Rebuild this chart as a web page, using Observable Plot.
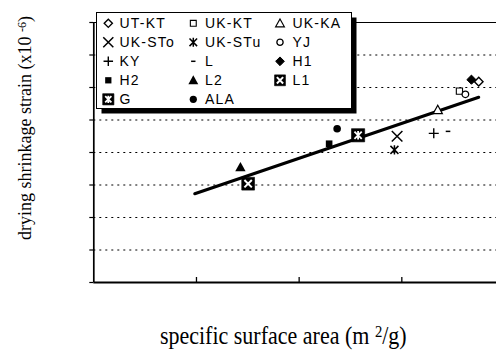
<!DOCTYPE html>
<html><head><meta charset="utf-8">
<script src="https://cdn.jsdelivr.net/npm/d3@7"></script>
<script src="https://cdn.jsdelivr.net/npm/@observablehq/plot@0.6"></script>
<style>
body{margin:0;background:#fff;}
#wrap{position:relative;width:496px;height:352px;overflow:hidden;background:#fff;}
#wrap svg.chart{position:absolute;left:0;top:0;}
.t{position:absolute;font-family:"Liberation Serif","Times New Roman",serif;font-size:18px;white-space:nowrap;color:#000;line-height:1;}
.t sup{font-size:0.67em;vertical-align:0.4em;line-height:0;}
#legend{position:absolute;left:0;top:0;}
</style>
</head><body>
<div id="wrap"></div>
<script>
// ---- data ----
const series = ["UT-KT","UK-KT","UK-KA","UK-STo","UK-STu","YJ","KY","L","H1","H2","L2","L1","G","ALA"];
const surfaceArea = [3.749, 3.561, 3.35, 2.954, 2.928, 3.619, 3.311, 3.45, 3.678, 2.292, 1.428, 1.503, 2.574, 2.37];
const shrinkage   = [618, 589, 531, 450, 408, 579, 459, 465, 624, 427, 355, 304, 453, 473];
const fitX = [0.983, 3.749];
const fitY = [273, 570];
const xTicks = [1, 2, 3];
const yTicks = [0, 100, 200, 300, 400, 500, 600, 700, 800];
const yGrid  = [100, 200, 300, 400, 500, 600, 700];

// ---- symbols (R = half extent) ----
const sym = f => ({draw(ctx, size){ f(ctx, Math.sqrt(size/Math.PI)); }});
const S = {
  diamond: sym((c,R)=>{c.moveTo(0,-R);c.lineTo(R,0);c.lineTo(0,R);c.lineTo(-R,0);c.closePath();}),
  square: sym((c,R)=>{c.rect(-R,-R,2*R,2*R);}),
  triangle: sym((c,R)=>{c.moveTo(0,-R);c.lineTo(R,0.8*R);c.lineTo(-R,0.8*R);c.closePath();}),
  circle: sym((c,R)=>{c.moveTo(R,0);c.arc(0,0,R,0,2*Math.PI);}),
  times: sym((c,R)=>{c.moveTo(-R,-R);c.lineTo(R,R);c.moveTo(-R,R);c.lineTo(R,-R);}),
  plus: sym((c,R)=>{c.moveTo(-R,0);c.lineTo(R,0);c.moveTo(0,-R);c.lineTo(0,R);}),
  xstar: sym((c,R)=>{const a=R*0.85;c.moveTo(-a,-a);c.lineTo(a,a);c.moveTo(-a,a);c.lineTo(a,-a);c.moveTo(0,-R);c.lineTo(0,R);}),
  dash: sym((c,R)=>{c.moveTo(-R,0);c.lineTo(R,0);})
};
const style = {
  "UT-KT": [{symbol:S.diamond, r:4.3, fill:"white", stroke:"black", strokeWidth:1.4}],
  "UK-KT": [{symbol:S.square, r:3.1, fill:"white", stroke:"black", strokeWidth:1.1}],
  "UK-KA": [{symbol:S.triangle, r:4.6, fill:"white", stroke:"black", strokeWidth:1.2}],
  "UK-STo": [{symbol:S.times, r:5.3, fill:"none", stroke:"black", strokeWidth:1.5}],
  "UK-STu": [{symbol:S.xstar, r:4.7, fill:"none", stroke:"black", strokeWidth:1.5}],
  "YJ": [{symbol:S.circle, r:3.3, fill:"white", stroke:"black", strokeWidth:1.3}],
  "KY": [{symbol:S.plus, r:5, fill:"none", stroke:"black", strokeWidth:1.4}],
  "L": [{symbol:S.dash, r:2.3, fill:"none", stroke:"black", strokeWidth:1.5}],
  "H1": [{symbol:S.diamond, r:4.6, fill:"black", stroke:"black", strokeWidth:1}],
  "H2": [{symbol:S.square, r:3.3, fill:"black", stroke:"none", strokeWidth:0}],
  "L2": [{symbol:S.triangle, r:5.2, fill:"black", stroke:"none", strokeWidth:0}],
  "L1": [{symbol:S.square, r:6.4, fill:"black", stroke:"black", strokeWidth:0.6},
         {symbol:S.times, r:3.7, fill:"none", stroke:"white", strokeWidth:2}],
  "G":  [{symbol:S.square, r:6.6, fill:"black", stroke:"black", strokeWidth:0.6},
         {symbol:S.xstar, r:4.3, fill:"none", stroke:"white", strokeWidth:1.8}],
  "ALA": [{symbol:S.circle, r:3.8, fill:"black", stroke:"none", strokeWidth:0}]
};

const pts = series.map((s,i)=>({s, x:surfaceArea[i], y:shrinkage[i]}));
const fit = fitX.map((x,i)=>({x, y:fitY[i]}));

const dotMarks = [];
for (const s of series) {
  for (const st of style[s]) {
    dotMarks.push(Plot.dot(pts.filter(d=>d.s===s), {x:"x", y:"y", ...st}));
  }
}

const chart = Plot.plot({
  width: 496, height: 352,
  marginLeft: 93.3, marginRight: -8, marginTop: 22, marginBottom: 70,
  x: {domain: [0, 4], axis: null},
  y: {domain: [0, 800], axis: null},
  style: {background: "transparent", overflow: "visible"},
  marks: [
    Plot.ruleY(yGrid, {stroke: "black", strokeWidth: 1, strokeDasharray: "2,4"}),
    Plot.ruleY([800], {stroke: "black", strokeWidth: 1}),
    Plot.axisY({ticks: yTicks, tickSize: 4, tickFormat: () => "", label: null, strokeWidth: 1.2}),
    Plot.ruleX(xTicks, {stroke: "black", strokeWidth: 1.3, insetTop: 255}),
    Plot.ruleX([0], {stroke: "black", strokeWidth: 1.7}),
    Plot.ruleY([0], {stroke: "black", strokeWidth: 2}),
    Plot.line(fit, {x: "x", y: "y", stroke: "black", strokeWidth: 3}),
    ...dotMarks
  ]
});
chart.classList.add("chart");
const wrap = document.getElementById("wrap");
wrap.appendChild(chart);

// ---- axis titles ----
const xt = document.createElement("div");
xt.className = "t";
xt.innerHTML = "specific surface area (m <sup>2</sup>/g)";
xt.style.fontSize = "22px";
xt.style.left = "283.3px"; xt.style.top = "336px"; xt.style.transform = "translate(-50%,-50%) scaleY(1.12)";
wrap.appendChild(xt);
const yt = document.createElement("div");
yt.className = "t";
yt.innerHTML = "drying shrinkage strain (x10 <sup>-6</sup>)";
yt.style.left = "24.5px"; yt.style.top = "127.5px"; yt.style.transform = "translate(-50%,-50%) rotate(-90deg)";
wrap.appendChild(yt);

// ---- legend ----
const colSym = [108.3, 193.3, 280], colTxt = [119.5, 205, 292.5];
const rowY = r => 23.3 + r*19;
const lg = d3.select(wrap).append("svg").attr("id","legend").attr("width",496).attr("height",352);
lg.append("rect").attr("x",101.5).attr("y",17.5).attr("width",255).attr("height",96).attr("fill","black");
lg.append("rect").attr("x",96.5).attr("y",12.5).attr("width",255).attr("height",96).attr("fill","white").attr("stroke","black").attr("stroke-width",1);
series.forEach((s,i)=>{
  const c = i%3, r = Math.floor(i/3);
  const cx = colSym[c], cy = rowY(r);
  for (const st of style[s]) {
    const R = st.r * (s==="L1"||s==="G" ? 0.85 : 0.95);
    lg.append("path")
      .attr("transform", `translate(${cx},${cy})`)
      .attr("d", d3.symbol(st.symbol, R*R*Math.PI)())
      .attr("fill", st.fill).attr("stroke", st.stroke).attr("stroke-width", st.strokeWidth);
  }
  lg.append("text").attr("x", colTxt[c]).attr("y", cy).attr("dy","0.36em")
    .attr("font-family","'Liberation Sans', Arial, sans-serif").attr("font-size",14)
    .attr("letter-spacing","1.2px").attr("fill","black").text(s);
});
</script>
</body></html>
